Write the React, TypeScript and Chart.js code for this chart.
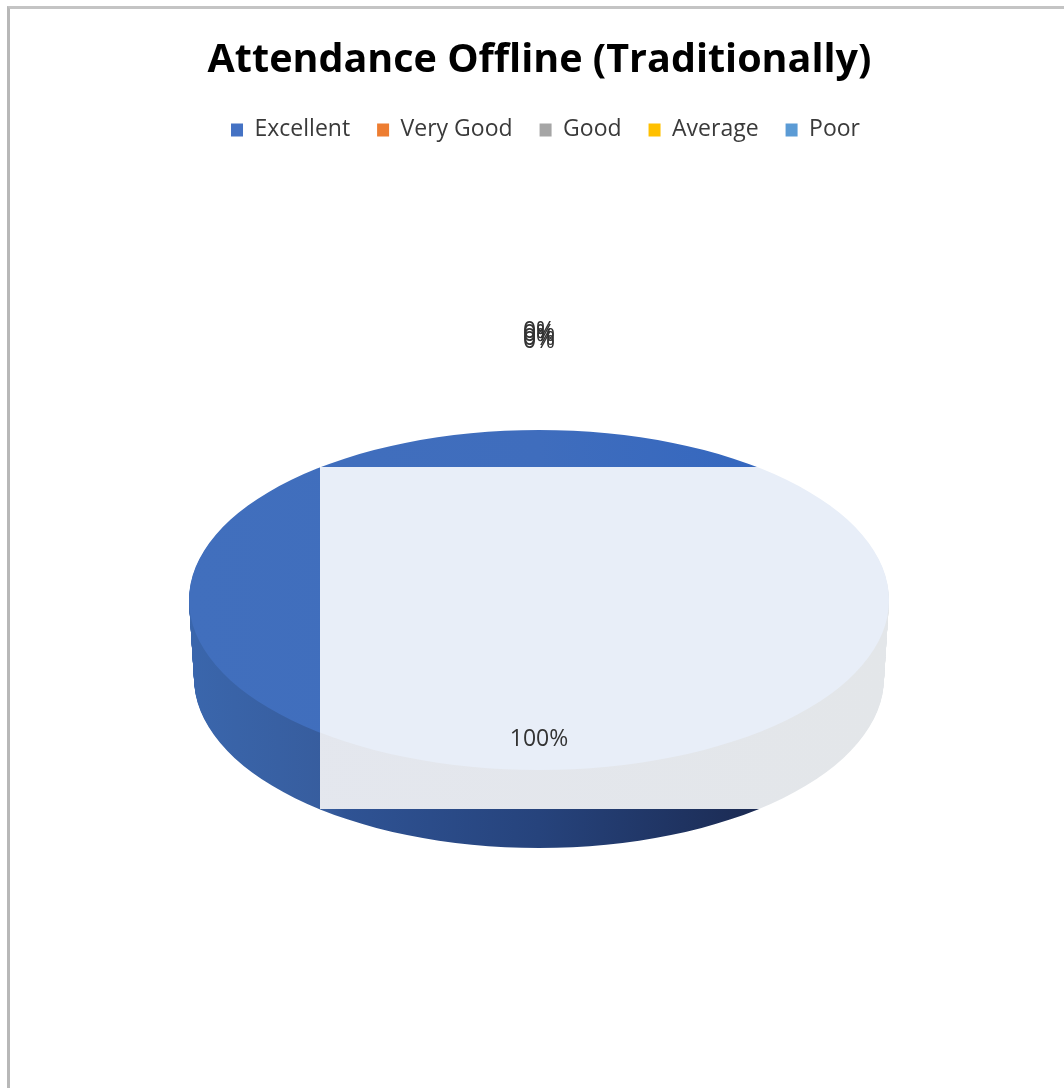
import React, { useEffect, useRef } from "react";
import { Chart, registerables } from "chart.js";

Chart.register(...registerables);

const chartTitle = "Attendance Offline (Traditionally)";
const categories = ["Excellent", "Very Good", "Good", "Average", "Poor"];
const seriesValues = [100, 0, 0, 0, 0];
const sliceColors = ["#4472c4", "#ed7d31", "#a5a5a5", "#ffc000", "#5b9bd5"];
// distance of each percentage label from the pie centre, as a share of the radius
const labelRadiusFactors = [0.82, 1.58, 1.56, 1.54, 1.52];

const FONT = "'Open Sans', sans-serif";
const TILT = { cx: 539, cy: 600, rx: 350, ry: 170, depth: 78, bottomRx: 345 };
const VEIL = { left: 320, top: 467, bottom: 809 };

function gradient(ctx: CanvasRenderingContext2D, arc: any, stops: [number, string][]) {
  const g = ctx.createLinearGradient(arc.x - arc.outerRadius, 0, arc.x + arc.outerRadius, 0);
  stops.forEach(([p, c]) => g.addColorStop(p, c));
  return g;
}

function paint(ctx: CanvasRenderingContext2D, arc: any, fill: any, down: number, rx: number) {
  const view = Object.create(arc);
  const opts = Object.create(arc.options);
  Object.defineProperty(opts, "backgroundColor", { value: fill });
  view.options = opts;
  const R = arc.outerRadius;
  ctx.save();
  ctx.translate(TILT.cx, TILT.cy + down);
  ctx.scale(rx / R, TILT.ry / R);
  ctx.translate(-arc.x, -arc.y);
  view.draw(ctx);
  ctx.restore();
}

function drawSolid(ctx: CanvasRenderingContext2D, arc: any, side: any, top: any) {
  for (let d = TILT.depth; d > 0; d--) {
    const rx = TILT.rx + ((TILT.bottomRx - TILT.rx) * d) / TILT.depth;
    paint(ctx, arc, side, d, rx);
  }
  paint(ctx, arc, top, 0, TILT.rx);
}

const tiltedPie = {
  id: "tiltedPie",
  afterLayout(chart: any) {
    chart.legend.left += 6;
    chart.legend.right += 6;
  },
  beforeDatasetDraw(chart: any) {
    const ctx = chart.ctx as CanvasRenderingContext2D;
    const vw = chart.width - VEIL.left;
    const vh = VEIL.bottom - VEIL.top;
    chart.getDatasetMeta(0).data.forEach((arc: any) => {
      if (arc.circumference <= 0) return;
      const side = gradient(ctx, arc, [
        [0, "#3a66ac"],
        [0.19, "#375d9e"],
        [0.22, "#2f5394"],
        [0.5, "#26437c"],
        [0.8, "#1c2c55"],
        [1, "#1a2850"],
      ]);
      const top = gradient(ctx, arc, [
        [0, "#416fbd"],
        [0.5, "#3f6dbd"],
        [1, "#2f64c0"],
      ]);
      ctx.save();
      ctx.beginPath();
      ctx.rect(0, 0, chart.width, chart.height);
      ctx.rect(VEIL.left, VEIL.top, vw, vh);
      ctx.clip("evenodd");
      drawSolid(ctx, arc, side, top);
      ctx.restore();

      ctx.save();
      ctx.beginPath();
      ctx.rect(VEIL.left, VEIL.top, vw, vh);
      ctx.clip();
      const lightSide = gradient(ctx, arc, [
        [0, "#e4e7ef"],
        [1, "#e3e6e9"],
      ]);
      drawSolid(ctx, arc, lightSide, "#e8eef8");
      ctx.restore();
    });
    return false;
  },
  afterDatasetsDraw(chart: any) {
    const ctx = chart.ctx as CanvasRenderingContext2D;
    const total = seriesValues.reduce((a, b) => a + b, 0);
    ctx.save();
    ctx.font = `23px ${FONT}`;
    ctx.fillStyle = "#333333";
    ctx.textAlign = "center";
    ctx.textBaseline = "middle";
    chart.getDatasetMeta(0).data.forEach((arc: any, i: number) => {
      const mid = (arc.startAngle + arc.endAngle) / 2;
      const f = labelRadiusFactors[i];
      const x = TILT.cx + Math.cos(mid) * TILT.rx * f;
      const y = TILT.cy + Math.sin(mid) * TILT.ry * f;
      ctx.fillText(`${Math.round((seriesValues[i] / total) * 100)}%`, x, y);
    });
    ctx.restore();
  },
};

export default function App() {
  const ref = useRef<HTMLCanvasElement>(null);
  useEffect(() => {
    const chart = new Chart(ref.current!, {
      type: "pie",
      data: {
        labels: categories,
        datasets: [
          {
            data: seriesValues,
            backgroundColor: sliceColors,
            borderWidth: 0,
          },
        ],
      },
      options: {
        responsive: false,
        animation: false,
        events: [],
        layout: { padding: { top: 37, left: 15, bottom: 60 } },
        plugins: {
          tooltip: { enabled: false },
          title: {
            display: true,
            text: chartTitle,
            color: "#000000",
            font: { family: FONT, size: 39.5, weight: "700", lineHeight: 1.2 },
            padding: { top: 0, bottom: 7 },
          },
          legend: {
            display: true,
            position: "top",
            labels: {
              boxWidth: 12,
              boxHeight: 13,
              padding: 27,
              color: "#3a3a3a",
              font: { family: FONT, size: 23 },
            },
          },
        },
      },
      plugins: [tiltedPie],
    } as any);
    return () => chart.destroy();
  }, []);
  return (
    <div style={{ position: "absolute", left: 0, top: 0, width: 1064, height: 1088, overflow: "hidden", background: "#fff" }}>
      <div
        style={{
          position: "absolute",
          left: 7,
          top: 6,
          right: 0,
          bottom: 0,
          borderLeft: "3px solid #b8b8b8",
          borderTop: "3px solid #c4c4c4",
        }}
      />
      <canvas ref={ref} width={1064} height={1088} style={{ position: "absolute", left: 0, top: 0, display: "block", filter: "blur(0.6px)" }} />
    </div>
  );
}
